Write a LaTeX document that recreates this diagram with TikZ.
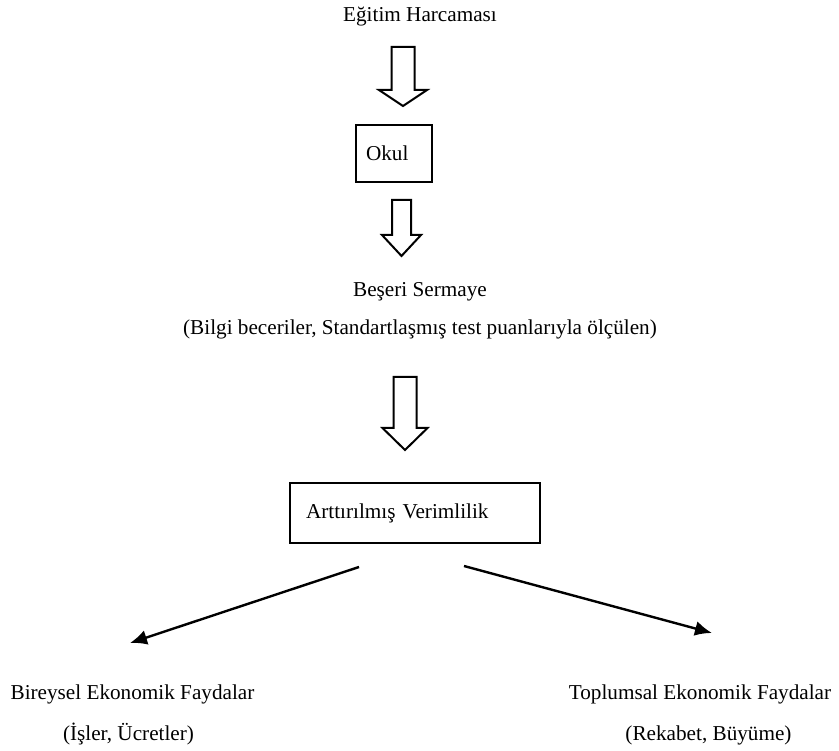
\documentclass[tikz,border=0pt]{standalone}
\usepackage{fontspec}
\setmainfont{Liberation Serif}
\usetikzlibrary{arrows.meta,calc}
% hollow block arrow: top point, tip point, shaft half width, head half width, head length
\newcommand{\hollowarrow}[5]{%
  \draw [blockline] ($(#1)+(-#3,0)$) -- ($(#2)+(-#3,#5)$) -- ($(#2)+(-#4,#5)$) -- (#2)
    -- ($(#2)+(#4,#5)$) -- ($(#2)+(#3,#5)$) -- ($(#1)+(#3,0)$) -- cycle;}
\begin{document}
\begin{tikzpicture}[>={Latex[length=17bp,width=15bp]},line join=miter,
  font=\fontsize{21.2bp}{25bp}\selectfont,
  label/.style={inner sep=0pt,anchor=base},
  boxnode/.style={draw,line width=2bp,inner ysep=0pt,align=left},
  blockline/.style={line width=2bp,fill=white},
  branch/.style={->,line width=2.4bp}]
\useasboundingbox (0bp,0bp) rectangle (839bp,751bp);
%%
  \node (spend) at (420bp,729bp) [label] {Eğitim Harcaması};
  \node (okul) at (394bp,597.5bp) [boxnode,inner xsep=10bp,text width=56bp,minimum height=57bp] {Okul};
  \node (capital) at (420bp,454bp) [label] {Beşeri Sermaye};
  \node (measure) at (420bp,416bp) [label] {(Bilgi beceriler, Standartlaşmış test puanlarıyla ölçülen)};
  \node (prod) at (415bp,238bp) [boxnode,inner xsep=16bp,text width=218bp,minimum height=60bp] {Arttırılmış Verimlilik};
  \node (indiv) at (132.5bp,51bp) [label] {Bireysel Ekonomik Faydalar};
  \node (indivx) at (128.5bp,11bp) [label] {(İşler, Ücretler)};
  \node (social) at (700bp,51bp) [label] {Toplumsal Ekonomik Faydalar};
  \node (socialx) at (708.5bp,11bp) [label] {(Rekabet, Büyüme)};
%%
  \coordinate (a1top) at (403bp,704bp);
  \coordinate (a1tip) at (403bp,645bp);
  \coordinate (a2top) at (401.5bp,551bp);
  \coordinate (a2tip) at (401.5bp,495bp);
  \coordinate (a3top) at (405bp,374bp);
  \coordinate (a3tip) at (405bp,301bp);
  \hollowarrow{a1top}{a1tip}{11.5bp}{24bp}{16bp}
  \hollowarrow{a2top}{a2tip}{9.5bp}{19.5bp}{21bp}
  \hollowarrow{a3top}{a3tip}{11.5bp}{22.5bp}{22bp}
%%
  \coordinate (l1) at (359bp,184bp);
  \coordinate (l2) at (130bp,108bp);
  \coordinate (r1) at (464bp,185bp);
  \coordinate (r2) at (712bp,118bp);
  \draw [branch] (l1) -- (l2);
  \draw [branch] (r1) -- (r2);
%
\end{tikzpicture}
\end{document}
